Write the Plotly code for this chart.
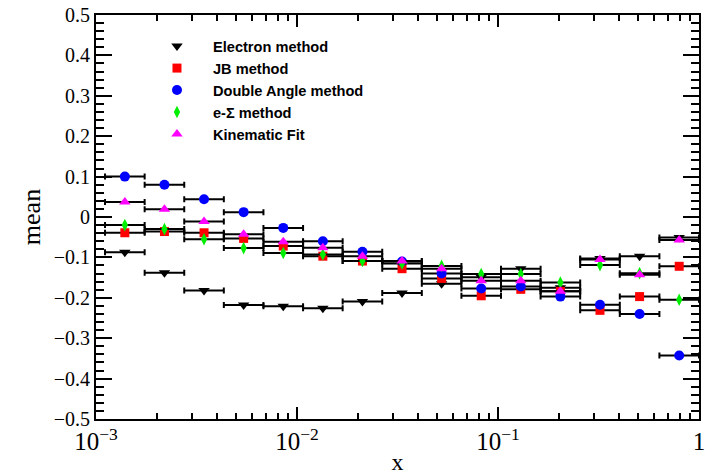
import plotly.graph_objects as go

# Bin edges in x (log spaced bins)
bin_edges = [0.001109, 0.001746, 0.002748, 0.004325, 0.006808, 0.01072, 0.01687,
             0.02655, 0.04178, 0.06577, 0.1035, 0.1629, 0.2564, 0.4036, 0.6353, 1.0]

electron = [-0.087, -0.138, -0.182, -0.218, -0.221, -0.226, -0.209, -0.188,
            -0.165, -0.149, -0.128, -0.175, -0.103, -0.097, -0.051]
jb = [-0.039, -0.036, -0.039, -0.053, -0.072, -0.097, -0.109, -0.128,
      -0.152, -0.195, -0.179, -0.184, -0.231, -0.197, -0.122]
double_angle = [0.100, 0.080, 0.044, 0.012, -0.027, -0.060, -0.086, -0.110,
                -0.140, -0.177, -0.172, -0.197, -0.217, -0.240, -0.343]
e_sigma = [-0.020, -0.030, -0.055, -0.077, -0.089, -0.093, -0.109, -0.115,
           -0.121, -0.141, -0.141, -0.162, -0.119, -0.139, -0.205]
kin_fit = [0.037, 0.019, -0.011, -0.043, -0.061, -0.076, -0.097, -0.109,
           -0.128, -0.158, -0.158, -0.184, -0.105, -0.143, -0.057]

series_names = ["Electron method", "JB method", "Double Angle method",
                "e-\u03a3 method", "Kinematic Fit"]

lo = bin_edges[:-1]
hi = bin_edges[1:]
centers = [(a * b) ** 0.5 for a, b in zip(lo, hi)]
err_plus = [h - c for h, c in zip(hi, centers)]
err_minus = [c - l for l, c in zip(lo, centers)]

styles = [
    dict(symbol="triangle-down", color="#000000", size=10),
    dict(symbol="square", color="#ff0000", size=9),
    dict(symbol="circle", color="#0000ff", size=10),
    dict(symbol="diamond-tall", color="#00ee00", size=9),
    dict(symbol="triangle-up", color="#ff00ff", size=10),
]
values = [electron, jb, double_angle, e_sigma, kin_fit]

fig = go.Figure()
for name, vals, st in zip(series_names, values, styles):
    fig.add_trace(go.Scatter(
        x=centers, y=vals, mode="markers", name=name,
        marker=dict(symbol=st["symbol"], color=st["color"], size=st["size"],
                    line=dict(width=0)),
        error_x=dict(type="data", symmetric=False, array=err_plus,
                     arrayminus=err_minus, color="black", thickness=2, width=3),
    ))

serif = "Liberation Serif, Times New Roman, serif"
fig.update_layout(
    width=707, height=475,
    margin=dict(l=96, r=8, t=15, b=56, autoexpand=False),
    paper_bgcolor="white", plot_bgcolor="white",
    showlegend=True,
    legend=dict(x=0.0746, y=0.9626, xanchor="left", yanchor="top",
                bgcolor="rgba(0,0,0,0)", itemwidth=62,
                font=dict(family="Liberation Sans, Arial, sans-serif", size=14.6,
                          color="black", weight="bold"),
                tracegroupgap=0),
    xaxis=dict(type="log", range=[-3, 0], dtick=1, exponentformat="power",
               showgrid=False, zeroline=False, automargin=False,
               showline=True, linecolor="black", linewidth=2, mirror="allticks",
               ticks="inside", ticklen=12, tickwidth=1.5, tickcolor="black",
               minor=dict(ticks="inside", ticklen=6, tickwidth=1.5,
                          tickcolor="black", dtick="D1", showgrid=False),
               tickfont=dict(family=serif, size=20, color="black"),
               title=dict(text="x", font=dict(family=serif, size=24, color="black"),
                          standoff=2)),
    yaxis=dict(range=[-0.5, 0.5], dtick=0.1, showgrid=False, zeroline=False,
               automargin=False,
               showline=True, linecolor="black", linewidth=2, mirror="allticks",
               ticks="inside", ticklen=16, tickwidth=1.5, tickcolor="black",
               minor=dict(ticks="inside", ticklen=8, tickwidth=1.5,
                          tickcolor="black", dtick=0.02, showgrid=False),
               tickfont=dict(family=serif, size=20, color="black"),
               title=dict(text="mean", font=dict(family=serif, size=26, color="black"),
                          standoff=6)),
)

fig.write_html("out.html")
